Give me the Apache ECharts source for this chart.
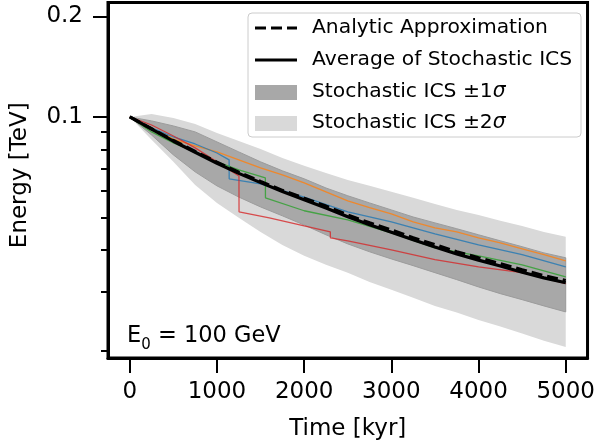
<!DOCTYPE html>
<html>
<head>
<meta charset="utf-8">
<script src="https://cdn.jsdelivr.net/npm/echarts@6/dist/echarts.min.js"></script>
<style>
  html, body { margin: 0; padding: 0; background: #fff; }
  #chart { width: 598px; height: 447px; }
</style>
</head>
<body>
<div id="chart"></div>
<script>
// ---- data ----
const times = [0, 250, 500, 750, 1000, 1250, 1500, 1750, 2000, 2250, 2500,
               2750, 3000, 3250, 3500, 3750, 4000, 4250, 4500, 4750, 5000];
const analytic = [0.1000, 0.0922, 0.0850, 0.0788, 0.0732, 0.0683, 0.0641, 0.0603, 0.0571, 0.0541, 0.0509,
                  0.0482, 0.0459, 0.0435, 0.0415, 0.0395, 0.0379, 0.0364, 0.0349, 0.0335, 0.0324];
const average  = [0.1000, 0.0919, 0.0846, 0.0784, 0.0727, 0.0678, 0.0636, 0.0598, 0.0565, 0.0534, 0.0503,
                  0.0476, 0.0452, 0.0429, 0.0408, 0.0389, 0.0373, 0.0358, 0.0343, 0.0330, 0.0319];
const upper1 = [0.1000, 0.0973, 0.0940, 0.0902, 0.0842, 0.0786, 0.0734, 0.0690, 0.0653, 0.0613, 0.0581,
                0.0553, 0.0527, 0.0502, 0.0482, 0.0463, 0.0444, 0.0426, 0.0409, 0.0392, 0.0379];
const lower1 = [0.1000, 0.0883, 0.0770, 0.0685, 0.0622, 0.0576, 0.0538, 0.0506, 0.0475, 0.0444, 0.0417,
                0.0395, 0.0376, 0.0359, 0.0342, 0.0326, 0.0310, 0.0296, 0.0284, 0.0272, 0.0261];
const upper2 = [0.1000, 0.1021, 0.0993, 0.0953, 0.0896, 0.0848, 0.0802, 0.0754, 0.0714, 0.0680, 0.0648,
                0.0622, 0.0597, 0.0573, 0.0549, 0.0527, 0.0509, 0.0489, 0.0472, 0.0453, 0.0438];
const lower2 = [0.1000, 0.0854, 0.0734, 0.0626, 0.0553, 0.0499, 0.0453, 0.0414, 0.0384, 0.0361, 0.0342,
                0.0321, 0.0304, 0.0288, 0.0272, 0.0260, 0.0247, 0.0236, 0.0225, 0.0214, 0.0205];

// individual stochastic paths
const orangeT = times;
const orangeE = [0.1000, 0.0927, 0.0859, 0.0819, 0.0786, 0.0744, 0.0704, 0.0671, 0.0635, 0.0597, 0.0561,
                 0.0535, 0.0513, 0.0485, 0.0466, 0.0453, 0.0435, 0.0420, 0.0403, 0.0387, 0.0371];
const blueT = [0, 250, 500, 750, 1000, 1139, 1140, 1500, 2000, 2500, 3000, 3500, 4000, 4500, 5000];
const blueE = [0.1000, 0.0927, 0.0871, 0.0830, 0.0780, 0.0744, 0.0653, 0.0631, 0.0576, 0.0520, 0.0485,
               0.0447, 0.0414, 0.0387, 0.0356];
const greenT = [0, 250, 500, 750, 1000, 1250, 1555, 1556, 2000, 2500, 3000, 3500, 4000, 4500, 5000];
const greenE = [0.1000, 0.0902, 0.0836, 0.0786, 0.0734, 0.0694, 0.0657, 0.0573, 0.0524, 0.0492, 0.0450,
                0.0406, 0.0384, 0.0361, 0.0332];
const redT = [0, 250, 500, 750, 1000, 1252, 1253, 1600, 2000, 2300, 2301, 2500, 3000, 3500, 4000, 4500, 4750, 5000];
const redE = [0.1000, 0.0946, 0.0877, 0.0808, 0.0734, 0.0666, 0.0520, 0.0499, 0.0472, 0.0453, 0.0435,
              0.0426, 0.0400, 0.0374, 0.0356, 0.0342, 0.0330, 0.0317];

const xTicks = [0, 1000, 2000, 3000, 4000, 5000];
const yMajorTicks = [0.1, 0.2];
const yMinorTicks = [0.02, 0.03, 0.04, 0.05, 0.06, 0.07, 0.08, 0.09];

const legendNames = ['Analytic Approximation', 'Average of Stochastic ICS', 'Stochastic ICS ±1', 'Stochastic ICS ±2'];

// ---- chart ----
const FONT = 'DejaVu Sans';
const chart = echarts.init(document.getElementById('chart'), null, { renderer: 'canvas' });

function pairs(ts, es) { return ts.map((t, i) => [t, es[i]]); }

function bandSeries(lo, up, fill, stroke) {
  return {
    type: 'custom',
    coordinateSystem: 'cartesian2d',
    silent: true,
    data: times.map((t, i) => [t, lo[i], up[i]]),
    encode: { x: 0, y: [1, 2] },
    renderItem: function (params, api) {
      if (params.dataIndex !== 0) return null;
      const pts = [];
      for (let i = 0; i < times.length; i++) pts.push(api.coord([times[i], up[i]]));
      for (let i = times.length - 1; i >= 0; i--) pts.push(api.coord([times[i], lo[i]]));
      return {
        type: 'polygon',
        shape: { points: pts },
        style: { fill: fill, stroke: stroke || null, lineWidth: stroke ? 1 : 0 }
      };
    },
    z: 1
  };
}

function pathSeries(ts, es, color) {
  return {
    type: 'line', data: pairs(ts, es), showSymbol: false, symbol: 'none',
    lineStyle: { color: color, width: 1.3, opacity: 0.8 }, silent: true, z: 3
  };
}

const option = {
  animation: false,
  backgroundColor: '#fff',
  grid: { left: 108, right: 7, top: 2.5, height: 355.5, show: true, borderColor: '#000', borderWidth: 3, backgroundColor: 'transparent' },
  xAxis: {
    type: 'value', min: -250, max: 5250,
    name: 'Time [kyr]', nameLocation: 'middle', nameGap: 60,
    nameTextStyle: { fontFamily: FONT, fontSize: 23, color: '#000' },
    axisLine: { show: true, onZero: false, lineStyle: { color: '#000', width: 3 } },
    axisTick: { show: true, customValues: xTicks, length: 15, lineStyle: { color: '#000', width: 2 } },
    axisLabel: { customValues: xTicks, margin: 23, fontFamily: FONT, fontSize: 23, color: '#000',
                 formatter: v => String(Math.round(v)) },
    splitLine: { show: false }
  },
  yAxis: [{
    type: 'log', min: 0.019, max: 0.22,
    name: 'Energy [TeV]', nameLocation: 'middle', nameGap: 76, nameRotate: 90,
    nameTextStyle: { fontFamily: FONT, fontSize: 23, color: '#000', padding: [0, 0, 0, 10] },
    axisLine: { show: true, onZero: false, lineStyle: { color: '#000', width: 3 } },
    axisTick: { show: true, customValues: yMajorTicks, length: 15, lineStyle: { color: '#000', width: 2 } },
    axisLabel: { customValues: yMajorTicks, margin: 25, fontFamily: FONT, fontSize: 23, color: '#000',
                 formatter: v => Number(v).toFixed(1) },
    splitLine: { show: false }, minorTick: { show: false }
  }, {
    type: 'log', min: 0.019, max: 0.22, position: 'left',
    axisLine: { show: false, onZero: false },
    axisTick: { show: true, customValues: yMinorTicks, length: 7, lineStyle: { color: '#000', width: 2 } },
    axisLabel: { show: false },
    splitLine: { show: false }
  }],
  series: [
    bandSeries(lower2, upper2, '#d9d9d9', null),
    bandSeries(lower1, upper1, '#a8a8a8', '#9c9c9c'),
    pathSeries(orangeT, orangeE, '#ff7f0e'),
    pathSeries(blueT, blueE, '#1f77b4'),
    pathSeries(greenT, greenE, '#2ca02c'),
    pathSeries(redT, redE, '#d62728'),
    { type: 'line', name: legendNames[1], data: pairs(times, average), showSymbol: false, symbol: 'none',
      lineStyle: { color: '#000', width: 3.2 }, silent: true, z: 4 },
    { type: 'line', name: legendNames[0], data: pairs(times, analytic), showSymbol: false, symbol: 'none',
      lineStyle: { color: '#000', width: 3.2, type: [11, 5] }, silent: true, z: 5 }
  ],
  graphic: [
    { type: 'rect', z: 100, shape: { x: 248, y: 13, width: 333, height: 124, r: 4 },
      style: { fill: 'rgba(255,255,255,0.85)', stroke: '#cccccc', lineWidth: 1 } },
    { type: 'line', z: 101, shape: { x1: 255, y1: 28, x2: 297, y2: 28 },
      style: { stroke: '#000', lineWidth: 3.2, lineDash: [11, 5] } },
    { type: 'line', z: 101, shape: { x1: 255, y1: 60, x2: 297, y2: 60 },
      style: { stroke: '#000', lineWidth: 3.2 } },
    { type: 'rect', z: 101, shape: { x: 255, y: 85, width: 42, height: 15 },
      style: { fill: '#a8a8a8' } },
    { type: 'rect', z: 101, shape: { x: 255, y: 116, width: 42, height: 15 },
      style: { fill: '#d9d9d9' } },
    { type: 'text', z: 102, x: 312, y: 28,
      style: { text: legendNames[0], font: '20.3px "DejaVu Sans"', fill: '#000', verticalAlign: 'middle' } },
    { type: 'text', z: 102, x: 312, y: 60,
      style: { text: legendNames[1], font: '20.3px "DejaVu Sans"', fill: '#000', verticalAlign: 'middle' } },
    { type: 'text', z: 102, x: 312, y: 92,
      style: { text: '{n|' + legendNames[2] + '}{i|σ}', fill: '#000', verticalAlign: 'middle',
               rich: { n: { fontFamily: FONT, fontSize: 20.3 }, i: { fontFamily: FONT, fontSize: 20.3, fontStyle: 'italic' } } } },
    { type: 'text', z: 102, x: 312, y: 123,
      style: { text: '{n|' + legendNames[3] + '}{i|σ}', fill: '#000', verticalAlign: 'middle',
               rich: { n: { fontFamily: FONT, fontSize: 20.3 }, i: { fontFamily: FONT, fontSize: 20.3, fontStyle: 'italic' } } } },
    { type: 'text', z: 102, x: 127, y: 325,
      style: { text: '{a|E}{s|0}{a| = 100 GeV}', fill: '#000', verticalAlign: 'top',
               rich: { a: { fontFamily: FONT, fontSize: 22.5, lineHeight: 26, verticalAlign: 'top' },
                       s: { fontFamily: FONT, fontSize: 15, lineHeight: 26, verticalAlign: 'bottom', padding: [0, 0, -2, 0] } } } }
  ]
};
chart.setOption(option);
</script>
</body>
</html>
